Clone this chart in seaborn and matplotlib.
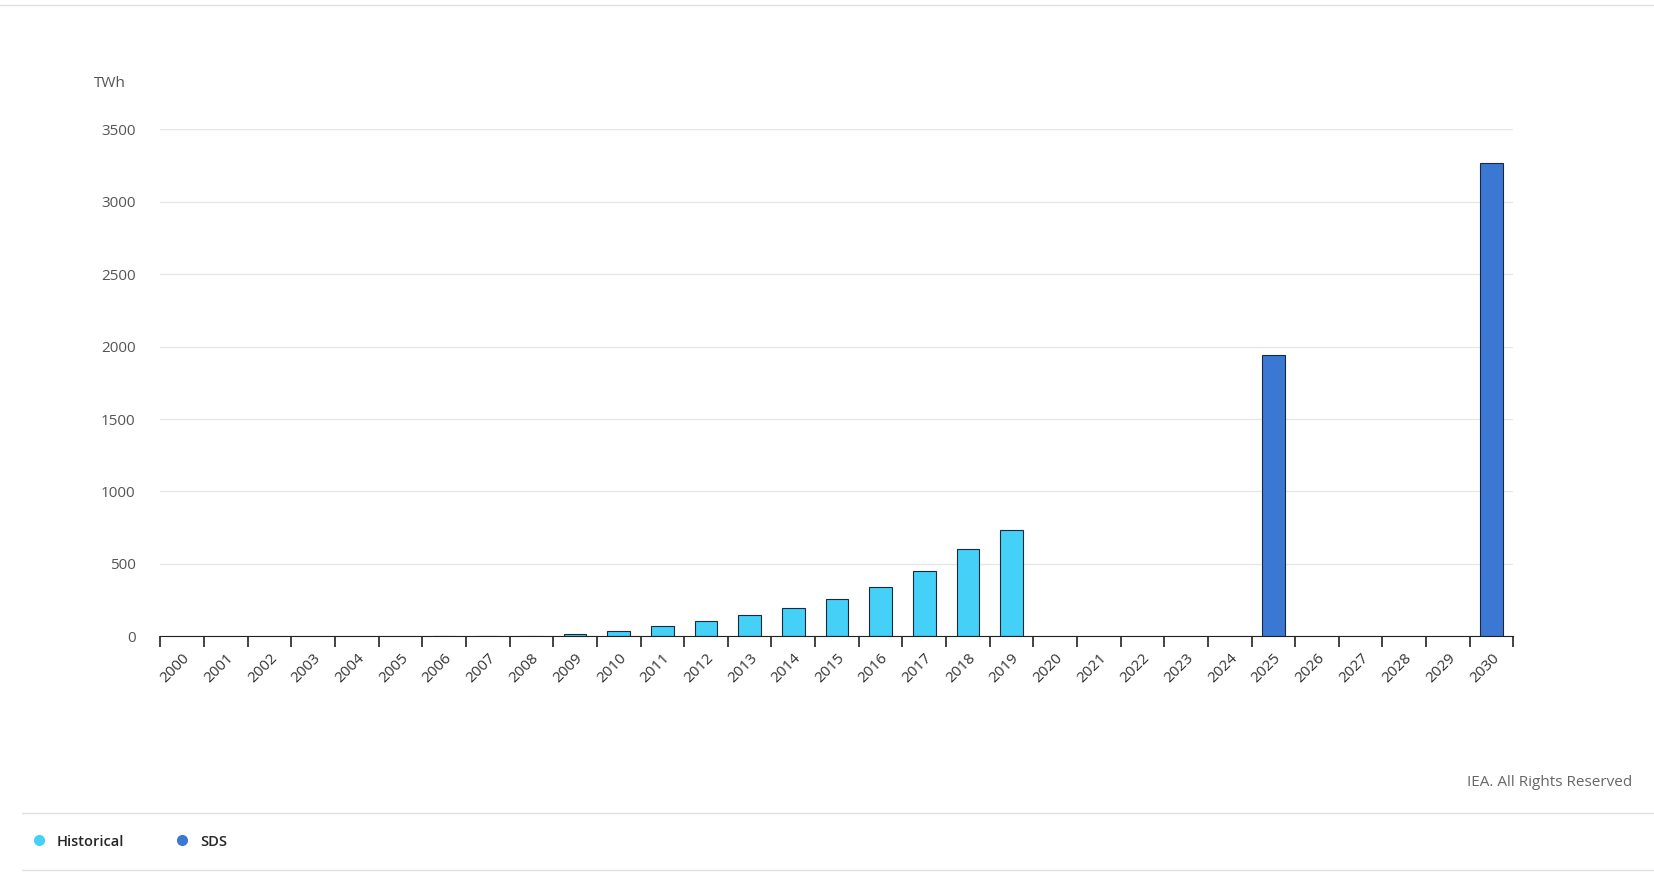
import matplotlib
matplotlib.use('Agg')
import matplotlib.pyplot as plt
import seaborn as sns
import pandas as pd
from matplotlib.lines import Line2D

years = [str(y) for y in range(2000, 2031)]
historical = [0, 0, 0, 0, 0, 0, 5, 5, 5, 14, 37, 74, 103, 147, 199, 257, 338, 449, 603, 735,
              0, 0, 0, 0, 0, 0, 0, 0, 0, 0, 0]
sds = [0] * 25 + [1942] + [0] * 4 + [3268]

sns.set_style('white')
plt.rcParams['font.family'] = ['Open Sans', 'DejaVu Sans']

df = pd.DataFrame({'year': years * 2,
                   'value': historical + sds,
                   'series': ['Historical'] * 31 + ['SDS'] * 31})
df = df[df['value'] > 0]

fig = plt.figure(figsize=(16.54, 8.73), dpi=100)
ax = fig.add_axes([0.097, 0.271, 0.818, 0.581])
colors = {'Historical': '#45d0f8', 'SDS': '#3a78d4'}
sns.barplot(data=df, x='year', y='value', hue='series', order=years, dodge=False,
            palette=colors, saturation=1, edgecolor='#1a2a3a', linewidth=0.8, width=0.52,
            ax=ax, legend=False)
ax.set_xlim(-0.5, 30.5)
ax.set_ylim(0, 3500)
ax.set_yticks(range(0, 3501, 500))
ax.yaxis.grid(True, color='#e6e6e6', linewidth=1)
ax.set_axisbelow(True)
for s in ['top', 'right', 'left']:
    ax.spines[s].set_visible(False)
ax.spines['bottom'].set_color('#222222')
ax.set_xticks([i - 0.5 for i in range(32)], minor=True)
ax.tick_params(axis='x', which='minor', bottom=True, length=8, color='#222222', width=1.2)
ax.tick_params(axis='x', which='major', length=0, pad=10)
ax.set_xticklabels(years, rotation=45, ha='right', rotation_mode='anchor', fontsize=11, color='#333333')
ax.tick_params(axis='y', length=0, labelsize=11, labelcolor='#555555', pad=18)
ax.set_xlabel('')
ax.set_ylabel('')
fig.text(0.057, 0.9, 'TWh', fontsize=11, color='#555555')
fig.text(0.987, 0.1, 'IEA. All Rights Reserved', fontsize=11, color='#666666', ha='right')

for yy in [0.994, 0.069, 0.003]:
    fig.add_artist(Line2D([0.013 if yy < 0.5 else 0, 1], [yy, yy], color='#e0e0e0', linewidth=1))
handles = [Line2D([], [], marker='o', linestyle='', color=colors[k], markersize=7, label=k)
           for k in ['Historical', 'SDS']]
fig.legend(handles=handles, loc='center left', bbox_to_anchor=(0.007, 0.036), ncol=2,
           frameon=False, handletextpad=0.2, columnspacing=3.0,
           prop={'weight': 'semibold', 'size': 10.5})
fig.savefig('out.png', dpi=100)
